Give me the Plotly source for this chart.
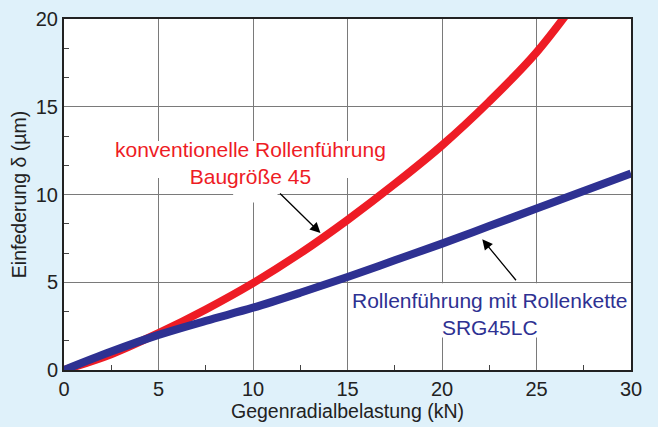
import plotly.graph_objects as go

# Data
x_red = [0, 2.5, 5, 7.5, 10, 12.5, 15, 17.5, 20, 22.5, 25, 27.5]
y_red = [0, 0.9, 2.1, 3.45, 4.95, 6.65, 8.55, 10.6, 12.8, 15.3, 18.1, 21.6]
x_blue = [0, 2.5, 5, 7.5, 10, 12.5, 15, 17.5, 20, 22.5, 25, 27.5, 30]
y_blue = [0, 1.05, 2.0, 2.8, 3.55, 4.4, 5.3, 6.25, 7.2, 8.2, 9.2, 10.2, 11.2]

label_red = "konventionelle Rollenführung<br>Baugröße 45"
label_blue = "Rollenführung mit Rollenkette<br>SRG45LC"
x_title = "Gegenradialbelastung (kN)"
y_title = "Einfederung δ (µm)"

RED = "#ee1c25"
BLUE = "#2e3192"
FONT = "Liberation Sans, Arial, Helvetica, sans-serif"

fig = go.Figure()
fig.add_trace(go.Scatter(x=x_red, y=y_red, mode="lines",
                         line=dict(color=RED, width=8, shape="spline", smoothing=1.0),
                         showlegend=False, hoverinfo="skip"))
fig.add_trace(go.Scatter(x=x_blue, y=y_blue, mode="lines",
                         line=dict(color=BLUE, width=8, shape="spline", smoothing=1.0),
                         showlegend=False, hoverinfo="skip"))

# white label backgrounds between gridlines and traces
fig.add_shape(type="rect", x0=2.6, x1=17.2, y0=10.94, y1=13.05, xref="x", yref="y",
              fillcolor="white", line=dict(width=0), layer="between")
fig.add_shape(type="rect", x0=8.95, x1=11.3, y0=9.55, y1=11.0, xref="x", yref="y",
              fillcolor="white", line=dict(width=0), layer="between")
fig.add_shape(type="rect", x0=15.2, x1=29.9, y0=1.85, y1=4.95, xref="x", yref="y",
              fillcolor="white", line=dict(width=0), layer="between")

# text labels
fig.add_annotation(x=9.87, y=11.77, xref="x", yref="y", text=label_red,
                   showarrow=False, font=dict(color=RED, size=21, family=FONT))
fig.add_annotation(x=22.5, y=3.19, xref="x", yref="y", text=label_blue,
                   showarrow=False, font=dict(color=BLUE, size=21, family=FONT))
# arrows
fig.add_annotation(x=13.57, y=7.8, ax=11.35, ay=10.14, xref="x", yref="y",
                   axref="x", ayref="y", text="", showarrow=True,
                   arrowhead=2, arrowsize=1.6, arrowwidth=1.3, arrowcolor="black")
fig.add_annotation(x=22.13, y=7.45, ax=23.98, ay=5.03, xref="x", yref="y",
                   axref="x", ayref="y", text="", showarrow=True,
                   arrowhead=2, arrowsize=1.6, arrowwidth=1.3, arrowcolor="black")

fig.update_xaxes(range=[0, 30], dtick=5, tick0=0, showgrid=True,
                 gridcolor="#7a7a7a", gridwidth=1, showline=True,
                 linecolor="#222222", linewidth=2, mirror=True, zeroline=False,
                 ticks="", automargin=False,
                 tickfont=dict(size=20, color="#222222", family=FONT),
                 title=dict(text=x_title, font=dict(size=19.5, color="#222222", family=FONT), standoff=2),
                 minor=dict(ticks="inside", ticklen=5, dtick=2.5, tick0=0,
                            tickcolor="#444444", showgrid=False))
fig.update_yaxes(range=[0, 20], dtick=5, tick0=0, showgrid=True,
                 gridcolor="#7a7a7a", gridwidth=1, showline=True,
                 linecolor="#222222", linewidth=2, mirror=True, zeroline=False,
                 ticks="", automargin=False,
                 tickfont=dict(size=20, color="#222222", family=FONT),
                 title=dict(text=y_title, font=dict(size=19.5, color="#222222", family=FONT), standoff=4),
                 minor=dict(ticks="inside", ticklen=5, dtick=5/3, tick0=0,
                            tickcolor="#444444", showgrid=False))

fig.update_layout(width=658, height=427,
                  margin=dict(l=64, r=27, t=19, b=57),
                  paper_bgcolor="#dff1fa", plot_bgcolor="white",
                  font=dict(family=FONT))

fig.write_html("out.html", config={"displayModeBar": False},
               post_script="document.body.style.margin='0';")
